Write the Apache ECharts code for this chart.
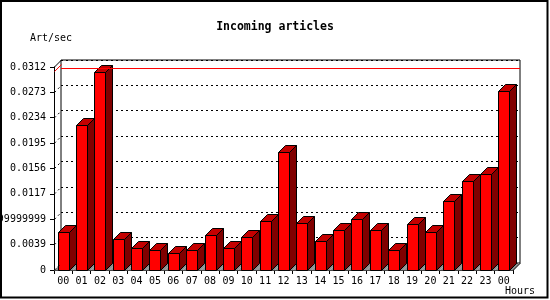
<!DOCTYPE html>
<html>
<head>
<meta charset="utf-8">
<script src="https://cdn.jsdelivr.net/npm/echarts@6/dist/echarts.min.js"></script>
<style>
html,body{margin:0;padding:0;background:#fff;}
#chart{width:550px;height:300px;}
</style>
</head>
<body>
<div id="chart"></div>
<script>
// ---- data ----
const hours = ['00','01','02','03','04','05','06','07','08','09','10','11','12',
               '13','14','15','16','17','18','19','20','21','22','23','00'];
const articles = [0.00589, 0.02229, 0.0305, 0.00472, 0.00333, 0.00302, 0.00256, 0.00302,
                  0.00533, 0.00333, 0.00502, 0.00748, 0.01814, 0.00717, 0.00441, 0.0061,
                  0.00779, 0.0061, 0.00302, 0.00707, 0.0058, 0.01056, 0.01368, 0.01471, 0.02747];
const yTickLabels = ['0','0.0039','0.00779999999999','0.0117','0.0156','0.0195','0.0234','0.0273','0.0312'];
const yMin = 0, yMax = 0.0312, yStep = 0.0039;

const FONT = 'DejaVu Sans Mono';
const D = 7; // depth offset in px

const chart = echarts.init(document.getElementById('chart'), null, {renderer:'canvas'});

function px(v){ return Math.round(v) + 0.5; }

const option = {
  animation: false,
  backgroundColor: '#fff',
  title: [
    {text:'Incoming articles', left:'center', top:21, padding:0,
     textStyle:{fontFamily:FONT, fontSize:11.5, fontWeight:'bold', color:'#000'}},
    {text:'Art/sec', left:30, top:33, padding:0,
     textStyle:{fontFamily:FONT, fontSize:10, fontWeight:'normal', color:'#000'}},
    {text:'Hours', left:505, top:286, padding:0,
     textStyle:{fontFamily:FONT, fontSize:10, fontWeight:'normal', color:'#000'}}
  ],
  graphic: [{
    type:'rect', shape:{x:1, y:1, width:546.5, height:296.5},
    style:{fill:'none', stroke:'#000', lineWidth:2}, silent:true, z:100
  }],
  grid: [
    {left:54, top:67, width:459, height:203, containLabel:false, outerBoundsMode:'none'},
    {left:61, top:60, width:459, height:203, containLabel:false, outerBoundsMode:'none',
     show:true, borderColor:'#000', borderWidth:1, backgroundColor:'transparent'}
  ],
  xAxis: [
    {type:'category', gridIndex:0, data:hours, boundaryGap:true,
     axisLine:{show:true, lineStyle:{color:'#000', width:1}},
     axisTick:{show:true, length:4, alignWithLabel:false, lineStyle:{color:'#000'}},
     axisLabel:{interval:0, margin:6, color:'#000', fontFamily:FONT, fontSize:10},
     splitLine:{show:false}},
    {type:'category', gridIndex:1, data:hours, boundaryGap:true, show:false}
  ],
  yAxis: [
    {type:'value', gridIndex:0, min:yMin, max:yMax, interval:yStep,
     axisLine:{show:true, lineStyle:{color:'#000', width:1}},
     axisTick:{show:true, length:4, lineStyle:{color:'#000'}},
     axisLabel:{margin:8, color:'#000', fontFamily:FONT, fontSize:10,
       formatter:function(v){ return yTickLabels[Math.round((v - yMin)/yStep)]; }},
     splitLine:{show:false}},
    {type:'value', gridIndex:1, min:yMin, max:yMax, interval:yStep,
     axisLine:{show:false}, axisTick:{show:false}, axisLabel:{show:false},
     splitLine:{show:true, lineStyle:{color:'#000', type:[2,3], width:1}}}
  ],
  series: [
    // red max line on the back plane
    {type:'line', xAxisIndex:1, yAxisIndex:1, data:articles, showSymbol:false, silent:true,
     lineStyle:{opacity:0, width:0}, z:1,
     markLine:{silent:true, symbol:['none','none'], label:{show:false},
       lineStyle:{color:'#f00', type:'solid', width:1},
       data:[{yAxis:Math.max.apply(null, articles)}]}},
    // frame diagonals (grid lines running over the left wall)
    {type:'custom', xAxisIndex:0, yAxisIndex:0, silent:true, z:3,
     data:yTickLabels.map(function(s){ return [0, Number(s)]; }),
     renderItem:function(params, api){
       const cs = params.coordSys;
       const y = api.coord([0, api.value(1)])[1];
       const last = params.dataIndex === yTickLabels.length - 1;
       const children = [{
         type:'line',
         shape:{x1:cs.x + 0.5, y1:y, x2:cs.x + D + 0.5, y2:y - D},
         style:{stroke:'#000', lineWidth:1, lineDash: last ? null : [2,3]}
       }];
       if (params.dataIndex === 0) {
         children.push({type:'line',
           shape:{x1:cs.x + cs.width + 0.5, y1:y, x2:cs.x + cs.width + D + 0.5, y2:y - D},
           style:{stroke:'#000', lineWidth:1}});
       }
       return {type:'group', children:children};
     }},
    // red diagonal of the max line
    {type:'custom', xAxisIndex:0, yAxisIndex:0, silent:true, z:3,
     data:[[0, Math.max.apply(null, articles)]],
     renderItem:function(params, api){
       const cs = params.coordSys;
       const y = api.coord([0, api.value(1)])[1];
       return {type:'line', shape:{x1:cs.x + 0.5, y1:y, x2:cs.x + D + 0.5, y2:y - D},
               style:{stroke:'#f00', lineWidth:1}};
     }},
    // 3D bars
    {type:'custom', xAxisIndex:0, yAxisIndex:0, z:2,
     data:articles.map(function(v, i){ return [i, v]; }),
     renderItem:function(params, api){
       const top = api.coord([api.value(0), api.value(1)]);
       const base = api.coord([api.value(0), 0]);
       const cw = api.size([1, 0])[0];
       const bw = cw * 0.6;
       const l = px(top[0] - bw/2), r = px(top[0] + bw/2);
       const t = px(top[1]), b = px(base[1]);
       const fl = base[0] - cw/2, fr = base[0] + cw/2;
       return {type:'group', children:[
         {type:'polygon', shape:{points:[[fl,b],[fr,b],[fr+D,b-D],[fl+D,b-D]]},
          style:{fill:'#8f8f8f', stroke:null}},
         {type:'polygon', shape:{points:[[r,t],[r+D,t-D],[r+D,b-D],[r,b]]},
          style:{fill:'#800000', stroke:'#000', lineWidth:1}},
         {type:'polygon', shape:{points:[[l,t],[l+D,t-D],[r+D,t-D],[r,t]]},
          style:{fill:'#c40000', stroke:'#000', lineWidth:1}},
         {type:'rect', shape:{x:l, y:t, width:r-l, height:b-t},
          style:{fill:'#ff0000', stroke:'#000', lineWidth:1}}
       ]};
     }}
  ]
};
chart.setOption(option);
</script>
</body>
</html>
